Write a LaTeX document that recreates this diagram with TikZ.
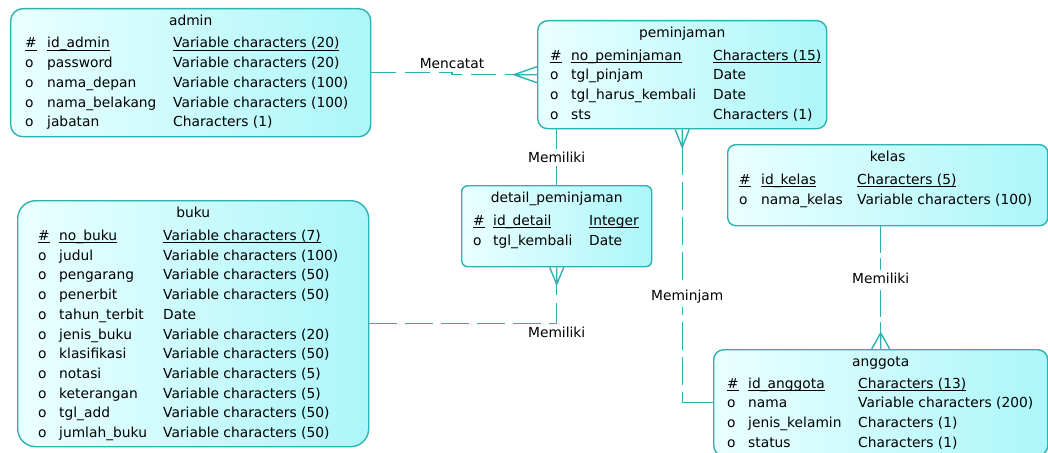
\documentclass[tikz,border=0pt]{standalone}
\usepackage{fontspec}
\setmainfont{DejaVu Sans}
\usepackage{tikz}
\usetikzlibrary{positioning}
\definecolor{erline}{RGB}{45,178,178}
\definecolor{erlight}{RGB}{234,255,255}
\definecolor{erdark}{RGB}{172,246,250}
\newcommand{\pk}[1]{\setbox0\hbox{#1}\rlap{\rule[-2.7pt]{\wd0}{0.8pt}}\box0}

\begin{document}
\begin{tikzpicture}[x=1pt,y=-1pt,font=\fontsize{13.8}{19.7}\selectfont,>=stealth]
\tikzstyle{entity}=[draw=erline,line width=1.4pt,left color=erlight,right color=erdark,anchor=north west,inner sep=0pt]
\tikzstyle{title}=[anchor=base,inner sep=0pt]
\tikzstyle{col}=[anchor=base west,inner sep=0pt]
\tikzstyle{rel}=[draw=erline,line width=1.4pt]
\tikzstyle{opt}=[rel,dash pattern=on 28pt off 7pt]
\tikzstyle{lbl}=[inner sep=3pt]
\tikzstyle{onlbl}=[lbl,fill=white]
  \useasboundingbox (0,0) rectangle (1048,452);
  \clip (0,0) rectangle (1048,452);
  \node[entity,rounded corners=12pt,minimum width=360pt,minimum height=128pt](admin) at (10,8){};
  \node[title](admin-t) at ([yshift=-17.5pt]admin.north){admin};
  \node[col](admin-k) at ([xshift=15pt,yshift=-40pt]admin.north west){\begin{tabular}[t]{@{}l@{}}\pk{\#}\\o\\o\\o\\o\end{tabular}};
  \node[col](admin-n) at ([xshift=37pt,yshift=-40pt]admin.north west){\begin{tabular}[t]{@{}l@{}}\pk{id\_admin}\\password\\nama\_depan\\nama\_belakang\\jabatan\end{tabular}};
  \node[col](admin-d) at ([xshift=163pt,yshift=-40pt]admin.north west){\begin{tabular}[t]{@{}l@{}}\pk{Variable characters (20)}\\Variable characters (20)\\Variable characters (100)\\Variable characters (100)\\Characters (1)\end{tabular}};
  \node[entity,rounded corners=10pt,minimum width=289pt,minimum height=108pt](peminjaman) at (537,20){};
  \node[title](peminjaman-t) at ([yshift=-17.5pt]peminjaman.north){peminjaman};
  \node[col](peminjaman-k) at ([xshift=13pt,yshift=-40pt]peminjaman.north west){\begin{tabular}[t]{@{}l@{}}\pk{\#}\\o\\o\\o\end{tabular}};
  \node[col](peminjaman-n) at ([xshift=34pt,yshift=-40pt]peminjaman.north west){\begin{tabular}[t]{@{}l@{}}\pk{no\_peminjaman}\\tgl\_pinjam\\tgl\_harus\_kembali\\sts\end{tabular}};
  \node[col](peminjaman-d) at ([xshift=176pt,yshift=-40pt]peminjaman.north west){\begin{tabular}[t]{@{}l@{}}\pk{Characters (15)}\\Date\\Date\\Characters (1)\end{tabular}};
  \node[entity,rounded corners=6pt,minimum width=190pt,minimum height=81pt](detail) at (461,185){};
  \node[title](detail-t) at ([yshift=-17.5pt]detail.north){detail\_peminjaman};
  \node[col](detail-k) at ([xshift=12pt,yshift=-40.5pt]detail.north west){\begin{tabular}[t]{@{}l@{}}\pk{\#}\\o\end{tabular}};
  \node[col](detail-n) at ([xshift=32pt,yshift=-40.5pt]detail.north west){\begin{tabular}[t]{@{}l@{}}\pk{id\_detail}\\tgl\_kembali\end{tabular}};
  \node[col](detail-d) at ([xshift=128pt,yshift=-40.5pt]detail.north west){\begin{tabular}[t]{@{}l@{}}\pk{Integer}\\Date\end{tabular}};
  \node[entity,rounded corners=18pt,minimum width=351pt,minimum height=246pt](buku) at (17,200){};
  \node[title](buku-t) at ([yshift=-17.5pt]buku.north){buku};
  \node[col](buku-k) at ([xshift=21pt,yshift=-40.5pt]buku.north west){\begin{tabular}[t]{@{}l@{}}\pk{\#}\\o\\o\\o\\o\\o\\o\\o\\o\\o\\o\end{tabular}};
  \node[col](buku-n) at ([xshift=42pt,yshift=-40.5pt]buku.north west){\begin{tabular}[t]{@{}l@{}}\pk{no\_buku}\\judul\\pengarang\\penerbit\\tahun\_terbit\\jenis\_buku\\klasifikasi\\notasi\\keterangan\\tgl\_add\\jumlah\_buku\end{tabular}};
  \node[col](buku-d) at ([xshift=146pt,yshift=-40.5pt]buku.north west){\begin{tabular}[t]{@{}l@{}}\pk{Variable characters (7)}\\Variable characters (100)\\Variable characters (50)\\Variable characters (50)\\Date\\Variable characters (20)\\Variable characters (50)\\Variable characters (5)\\Variable characters (5)\\Variable characters (50)\\Variable characters (50)\end{tabular}};
  \node[entity,rounded corners=8pt,minimum width=320pt,minimum height=81pt](kelas) at (727,144){};
  \node[title](kelas-t) at ([yshift=-17.5pt]kelas.north){kelas};
  \node[col](kelas-k) at ([xshift=12pt,yshift=-40.5pt]kelas.north west){\begin{tabular}[t]{@{}l@{}}\pk{\#}\\o\end{tabular}};
  \node[col](kelas-n) at ([xshift=34pt,yshift=-40.5pt]kelas.north west){\begin{tabular}[t]{@{}l@{}}\pk{id\_kelas}\\nama\_kelas\end{tabular}};
  \node[col](kelas-d) at ([xshift=130pt,yshift=-40.5pt]kelas.north west){\begin{tabular}[t]{@{}l@{}}\pk{Characters (5)}\\Variable characters (100)\end{tabular}};
  \node[entity,rounded corners=10pt,minimum width=334pt,minimum height=106pt](anggota) at (713,349){};
  \node[title](anggota-t) at ([yshift=-17.5pt]anggota.north){anggota};
  \node[col](anggota-k) at ([xshift=14pt,yshift=-39pt]anggota.north west){\begin{tabular}[t]{@{}l@{}}\pk{\#}\\o\\o\\o\end{tabular}};
  \node[col](anggota-n) at ([xshift=35pt,yshift=-39pt]anggota.north west){\begin{tabular}[t]{@{}l@{}}\pk{id\_anggota}\\nama\\jenis\_kelamin\\status\end{tabular}};
  \node[col](anggota-d) at ([xshift=145pt,yshift=-39pt]anggota.north west){\begin{tabular}[t]{@{}l@{}}\pk{Characters (13)}\\Variable characters (200)\\Characters (1)\\Characters (1)\end{tabular}};
  \coordinate(pem-in) at ([xshift=-23pt]peminjaman.west);
  \draw[opt,dash pattern=on 25pt off 9pt](admin.east) -- (admin.east -| 452,0) node[lbl,above](mencatat){Mencatat} |- (pem-in);
  \draw[rel](pem-in) -- ([yshift=8pt]peminjaman.west) (pem-in) -- (peminjaman.west) (pem-in) -- ([yshift=-8pt]peminjaman.west);
  \draw[rel](detail.north) -- node[onlbl](memiliki1){Memiliki} (detail.north |- peminjaman.south);
  \coordinate(det-in) at ([yshift=-17pt]detail.south);
  \draw[opt,dash pattern=on 28pt off 8pt](buku.east) -| node[lbl,below](memiliki2){Memiliki} (det-in);
  \draw[rel](det-in) -- ([xshift=-7pt]detail.south) (det-in) -- (detail.south) (det-in) -- ([xshift=7pt]detail.south);
  \coordinate(pem-out) at ([yshift=-18pt]peminjaman.south);
  \draw[opt](pem-out) -- (pem-out |- anggota.west);
  \draw[rel](pem-out |- anggota.west) -- (anggota.west);
  \draw[rel](pem-out) -- ([xshift=-7pt]peminjaman.south) (pem-out) -- (peminjaman.south) (pem-out) -- ([xshift=7pt]peminjaman.south);
  \path(pem-out |- 0,297) node[onlbl,xshift=5pt](meminjam){Meminjam};
  \coordinate(ang-in) at ([yshift=16pt]anggota.north);
  \draw[opt,dash pattern=on 27pt off 5pt](kelas.south -| ang-in) -- node[onlbl,pos=0.49](memiliki3){Memiliki} (ang-in);
  \draw[rel](ang-in) -- ([xshift=-9pt]anggota.north) (ang-in) -- (anggota.north) (ang-in) -- ([xshift=9pt]anggota.north);
\end{tikzpicture}
\end{document}
